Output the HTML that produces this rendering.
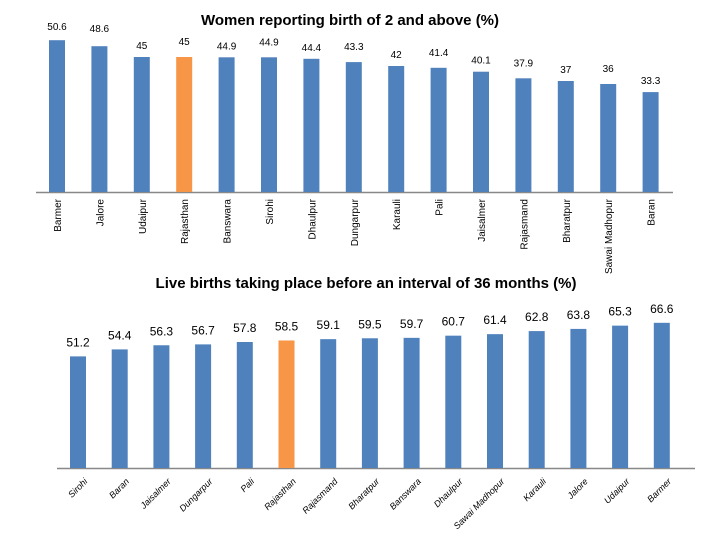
<!DOCTYPE html>
<html><head><meta charset="utf-8"><style>
body{margin:0;background:#fff;}
svg{display:block;font-family:"Liberation Sans",sans-serif;}
</style></head><body>
<svg id="c" width="720" height="540">
<text x="350" y="25" text-anchor="middle" font-size="15" font-weight="bold" fill="#000">Women reporting birth of 2 and above (%)</text>
<text x="366" y="288" text-anchor="middle" font-size="15" font-weight="bold" fill="#000">Live births taking place before an interval of 36 months (%)</text>
</svg>
<script>
const topCats=["Barmer","Jalore","Udaipur","Rajasthan","Banswara","Sirohi","Dhaulpur","Dungarpur","Karauli","Pali","Jaisalmer","Rajasmand","Bharatpur","Sawai Madhopur","Baran"];
const topVals=[50.6,48.6,45,45,44.9,44.9,44.4,43.3,42,41.4,40.1,37.9,37,36,33.3];
const topLabels=["50.6","48.6","45","45","44.9","44.9","44.4","43.3","42","41.4","40.1","37.9","37","36","33.3"];
const botCats=["Sirohi","Baran","Jaisalmer","Dungarpur","Pali","Rajasthan","Rajasmand","Bharatpur","Banswara","Dhaulpur","Sawai Madhopur","Karauli","Jalore","Udaipur","Barmer"];
const botVals=[51.2,54.4,56.3,56.7,57.8,58.5,59.1,59.5,59.7,60.7,61.4,62.8,63.8,65.3,66.6];
const botLabels=["51.2","54.4","56.3","56.7","57.8","58.5","59.1","59.5","59.7","60.7","61.4","62.8","63.8","65.3","66.6"];
const NS="http://www.w3.org/2000/svg";
const svg=document.getElementById('c');
function mk(t,a,txt){const e=document.createElementNS(NS,t);for(const k in a)e.setAttribute(k,a[k]);if(txt!=null)e.textContent=txt;svg.appendChild(e);return e;}
const tX=i=>57+i*42.4, tY=v=>192-v*3.0;
const bX=i=>78+i*41.7, bY=v=>468-v*2.18;
let ax=mk('line',{x1:36,x2:673,y1:192.5,y2:192.5,stroke:'#888',"stroke-width":1.5});


topVals.forEach((v,i)=>{
  const r=mk('rect',{x:tX(i)-8,y:tY(v),width:16,height:192-tY(v),fill:topCats[i]==="Rajasthan"?"#f79646":"#4f81bd"});
  
  
  const l=mk('text',{x:tX(i),y:tY(v)-(i%2?14:10)+(i>1?2:0),"text-anchor":"middle","font-size":10,fill:"#000"},topLabels[i]);
  
  
  const c=mk('text',{x:0,y:0,"text-anchor":"end","font-size":10,fill:"#000",transform:`translate(${tX(i)+4},199) rotate(-90)`},topCats[i]);
  
  
});
let ax2=mk('line',{x1:57,x2:695,y1:468.5,y2:468.5,stroke:'#888',"stroke-width":1.5});


botVals.forEach((v,i)=>{
  const r=mk('rect',{x:bX(i)-8,y:bY(v),width:16,height:468-bY(v),fill:botCats[i]==="Rajasthan"?"#f79646":"#4f81bd"});
  
  
  const l=mk('text',{x:bX(i),y:bY(v)-10,"text-anchor":"middle","font-size":12,fill:"#000"},botLabels[i]);
  
  
  const c=mk('text',{x:0,y:0,"text-anchor":"end","font-size":9,"font-style":"italic",fill:"#000",transform:`translate(${bX(i)+10},482) rotate(-45)`},botCats[i]);
  
  
});
</script>
</body></html>
